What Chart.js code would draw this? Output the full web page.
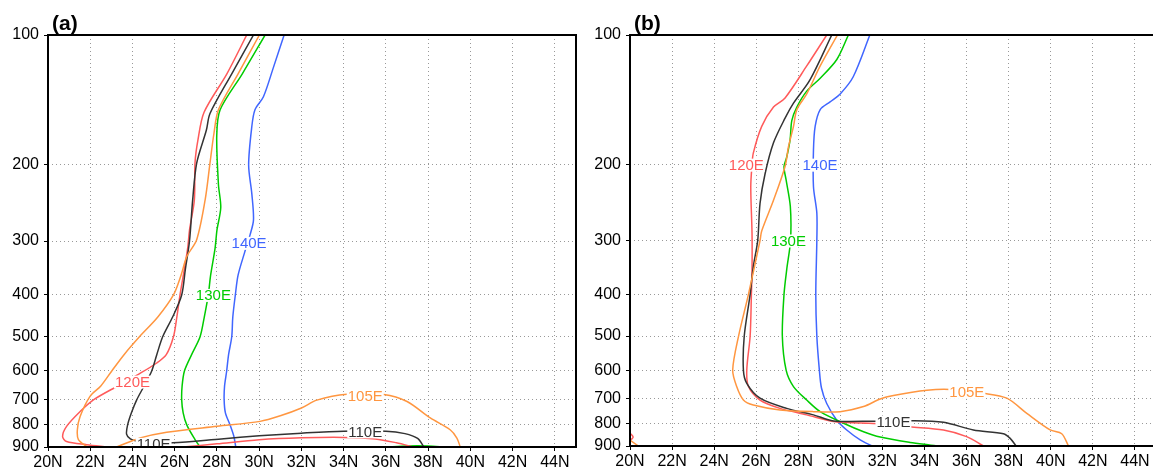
<!DOCTYPE html>
<html>
<head>
<meta charset="utf-8">
<script src="https://cdn.jsdelivr.net/npm/chart.js@4/dist/chart.umd.min.js"></script>
<style>
  html, body { margin: 0; padding: 0; background: #fff; overflow: hidden; width: 1153px; height: 473px; }
  .panel { position: absolute; top: 0; }
  #wrap-a { left: 0; }
  #wrap-b { left: 580px; }
</style>
</head>
<body>
<div class="panel" id="wrap-a"><canvas id="chart-a" width="590" height="473"></canvas></div>
<div class="panel" id="wrap-b"><canvas id="chart-b" width="590" height="473"></canvas></div>
<script>
// axis ticks
const latTicks = [20, 22, 24, 26, 28, 30, 32, 34, 36, 38, 40, 42, 44];
const pressureTicks = [100, 200, 300, 400, 500, 600, 700, 800, 900];

// contour paths, [lat, hPa]; null splits a path into pieces
// panel (a)
const a105E = [[30.01,100],[29.0,123],[28.07,149],[27.85,170],[27.67,198],[27.44,241],[27.04,298],[26.57,326],[26.3,360],[25.94,400],[25.2,450],[24.33,500],[23.6,550],[23.02,600],[22.5,650],[21.99,687],[21.52,765],[21.39,821],[21.44,865],[21.86,900],
  null,
  [23.25,900],[24.36,858],[25.62,832],[28.0,806],[30.04,785],[31.0,762],[32.0,731],[32.73,701],[34.15,679],[35.9,680],[37.0,706],[38.1,771],[39.04,821],[39.36,858],[39.52,900]];
const a110E = [[29.73,100],[28.7,123],[27.67,152],[27.5,166],[27.04,198],[26.85,241],[26.7,300],[26.5,350],[26.33,400],[25.9,450],[25.43,500],[25.15,550],[24.91,600],[24.55,650],[24.2,700],[23.95,750],[23.77,800],[23.72,840],[23.9,862],[24.2,872],[25.0,880],[25.9,880],[28.2,862],[30.0,848],[32.0,836],[34.0,827],[36.0,827],[36.9,838],[37.5,860],[37.8,900]];
const a120E = [[29.41,100],[28.47,123],[27.39,151],[27.1,175],[26.96,198],[26.93,241],[26.7,283],[26.62,310],[26.45,350],[26.25,400],[26.1,450],[25.94,500],[25.6,550],[25.15,575],[24.3,610],[23.3,650],[22.15,700],[21.52,745],[20.88,806],[20.69,851],[20.88,874],[21.83,889],[22.8,900],
  null,
  [26.4,900],[28.0,885],[30.0,866],[32.0,857],[34.0,855],[35.5,862],[36.5,880],[37.3,900]];
const a130E = [[30.28,100],[29.2,123],[28.15,149],[27.99,171],[28.07,222],[28.18,251],[28.0,283],[27.91,312],[27.7,360],[27.59,400],[27.4,450],[27.2,500],[26.8,550],[26.46,600],[26.35,650],[26.33,700],[26.4,750],[26.57,800],[26.96,865],[27.2,900],
  null,
  [36.0,900],[37.0,895],[38.0,895],[38.8,900]];
const a140E = [[31.18,100],[30.67,119],[30.2,139],[29.8,149],[29.65,163],[29.5,200],[29.65,233],[29.73,268],[29.57,290],[29.3,320],[29.0,360],[28.87,400],[28.75,450],[28.7,500],[28.55,550],[28.46,600],[28.36,650],[28.34,700],[28.4,750],[28.62,800],[28.8,850],[28.89,900]];

// panel (b)
const b105E = [[29.86,100],[29.04,118],[28.4,137],[27.93,149],[27.77,163],[27.53,182],[27.37,202],[26.82,242],[26.26,285],[26.18,300],[25.63,400],[25.16,500],[24.88,600],[25.07,655],[25.39,704],[25.86,723],[27.13,742],[28.72,749],[29.99,749],[31.1,729],[31.89,700],[32.52,687],[34.11,668],[35.2,665],[36.8,679],[37.91,697],[38.86,756],[39.97,826],[40.52,843],[40.84,900],
  null,
  [20.0,872],[20.4,900]];
const b110E = [[29.59,100],[28.56,127],[27.77,144],[27.37,156],[26.82,178],[26.42,210],[26.18,246],[26.07,300],[25.86,345],[25.71,400],[25.43,500],[25.39,600],[25.55,644],[26.18,697],[27.45,736],[28.72,762],[29.67,787],[31.58,788],[33.39,786],[34.9,793],[36.32,826],[37.75,843],[38.07,864],[38.35,900]];
const b120E = [[29.35,100],[28.4,118],[27.37,140],[26.82,147],[26.26,163],[25.86,188],[25.8,200],[25.74,225],[25.8,289],[25.8,350],[25.77,400],[25.71,500],[25.55,600],[25.63,655],[26.18,704],[27.13,736],[28.4,762],[29.67,790],[31.0,796],[32.0,800],[33.3,812],[34.9,826],[36.0,856],[36.8,900],
  null,
  [20.0,840],[20.15,858],[20.05,870]];
const b130E = [[30.38,100],[29.83,114],[29.04,126],[28.4,135],[27.93,147],[27.69,158],[27.61,175],[27.45,192],[27.32,202],[27.42,217],[27.62,250],[27.63,300],[27.45,350],[27.32,400],[27.24,500],[27.42,600],[27.77,655],[28.4,704],[29.04,749],[30.15,797],[31.1,834],[31.89,858],[33.31,883],[34.3,896],[34.6,900]];
const b140E = [[31.4,100],[30.61,125],[29.99,137],[29.51,143],[29.04,149],[28.8,163],[28.72,185],[28.72,225],[28.88,259],[28.88,300],[28.83,400],[28.88,500],[29.0,600],[29.1,660],[29.35,717],[29.83,784],[30.3,826],[30.94,871],[31.5,900]];

// inline contour labels [text, lat, hPa]
const labelsA = [['120E',24.0,635],['110E',25.0,885],['130E',27.83,400],['140E',29.52,303],['105E',35.02,685],['110E',35.02,828]];
const labelsB = [['120E',25.53,200],['140E',29.03,200],['130E',27.53,300],['110E',32.52,790],['105E',36.01,674]];

const colors = {
  '105E': '#ff9640',
  '110E': '#333333',
  '120E': '#ff5a5a',
  '130E': '#00cc00',
  '140E': '#4066ff',
};

const FONT = '"Liberation Sans", Arial, sans-serif';

function buildDatasets(series) {
  const out = [];
  for (const name in series) {
    let seg = [];
    const flush = () => {
      if (seg.length) {
        out.push({
          label: name,
          data: seg.map(([x, y]) => ({ x: x, y: y })),
          borderColor: colors[name],
          borderWidth: 1.5,
          pointRadius: 0,
          showLine: true,
          tension: 0.3,
          fill: false,
        });
      }
      seg = [];
    };
    series[name].forEach((pt) => { if (pt === null) flush(); else seg.push(pt); });
    flush();
  }
  return out;
}

const framePlugin = {
  id: 'frameAndLabels',
  afterDatasetsDraw(chart, args, opts) {
    const { ctx, chartArea: a, scales } = chart;
    ctx.save();
    ctx.beginPath();
    ctx.rect(a.left, a.top, a.right - a.left, a.bottom - a.top);
    ctx.clip();
    ctx.font = '15px ' + FONT;
    ctx.textAlign = 'center';
    ctx.textBaseline = 'middle';
    opts.labels.forEach(([t, lat, p]) => {
      const px = scales.x.getPixelForValue(lat);
      const py = scales.y.getPixelForValue(p);
      const w = ctx.measureText(t).width;
      ctx.fillStyle = '#fff';
      ctx.fillRect(px - w / 2 - 1, py - 6, w + 2, 13);
      ctx.fillStyle = colors[t];
      ctx.fillText(t, px, py + 1);
    });
    ctx.restore();

    ctx.save();
    ctx.strokeStyle = '#000';
    ctx.lineWidth = 2;
    ctx.strokeRect(a.left, a.top, a.right - a.left, a.bottom - a.top);
    ctx.font = 'bold 21px ' + FONT;
    ctx.fillStyle = '#000';
    ctx.textAlign = 'left';
    ctx.textBaseline = 'alphabetic';
    ctx.fillText(opts.title, a.left + 4, a.top - 5);
    ctx.restore();
  },
};

function makeChart(id, series, labels, title, yWidth, xHeight) {
  return new Chart(document.getElementById(id), {
    type: 'scatter',
    data: { datasets: buildDatasets(series) },
    options: {
      responsive: false,
      animation: false,
      devicePixelRatio: 1,
      layout: { padding: { left: 0, top: 35, right: 14, bottom: 0 } },
      plugins: {
        legend: { display: false },
        tooltip: { enabled: false },
        frameAndLabels: { labels: labels, title: title },
      },
      scales: {
        x: {
          type: 'linear',
          min: 20,
          max: 45,
          afterBuildTicks: (scale) => { scale.ticks = latTicks.map((v) => ({ value: v })); },
          afterFit: (scale) => { scale.height = xHeight; },
          ticks: {
            callback: (v) => v + 'N',
            color: '#000',
            font: { family: FONT, size: 16 },
            padding: 2,
            maxRotation: 0,
            autoSkip: false,
          },
          grid: {
            color: (c) => (c.tick && c.tick.value === 20 ? 'rgba(0,0,0,0)' : '#999'),
            tickColor: '#000',
            tickLength: 4,
            lineWidth: 1,
          },
          border: { display: false, dash: [1, 3] },
        },
        y: {
          type: 'logarithmic',
          reverse: true,
          min: 100,
          max: 900,
          afterBuildTicks: (scale) => { scale.ticks = pressureTicks.map((v) => ({ value: v })); },
          afterFit: (scale) => { scale.width = yWidth; },
          ticks: {
            callback: (v) => String(v),
            color: '#000',
            font: { family: FONT, size: 16 },
            padding: 5,
            autoSkip: false,
          },
          grid: {
            color: (c) => (c.tick && (c.tick.value === 100 || c.tick.value === 900) ? 'rgba(0,0,0,0)' : '#999'),
            tickColor: '#000',
            tickLength: 4,
            lineWidth: 1,
          },
          border: { display: false, dash: [1, 3] },
        },
      },
    },
    plugins: [framePlugin],
  });
}

makeChart('chart-a', { '105E': a105E, '110E': a110E, '120E': a120E, '130E': a130E, '140E': a140E }, labelsA, '(a)', 48, 26);
makeChart('chart-b', { '105E': b105E, '110E': b110E, '120E': b120E, '130E': b130E, '140E': b140E }, labelsB, '(b)', 50, 27);
</script>
</body>
</html>
